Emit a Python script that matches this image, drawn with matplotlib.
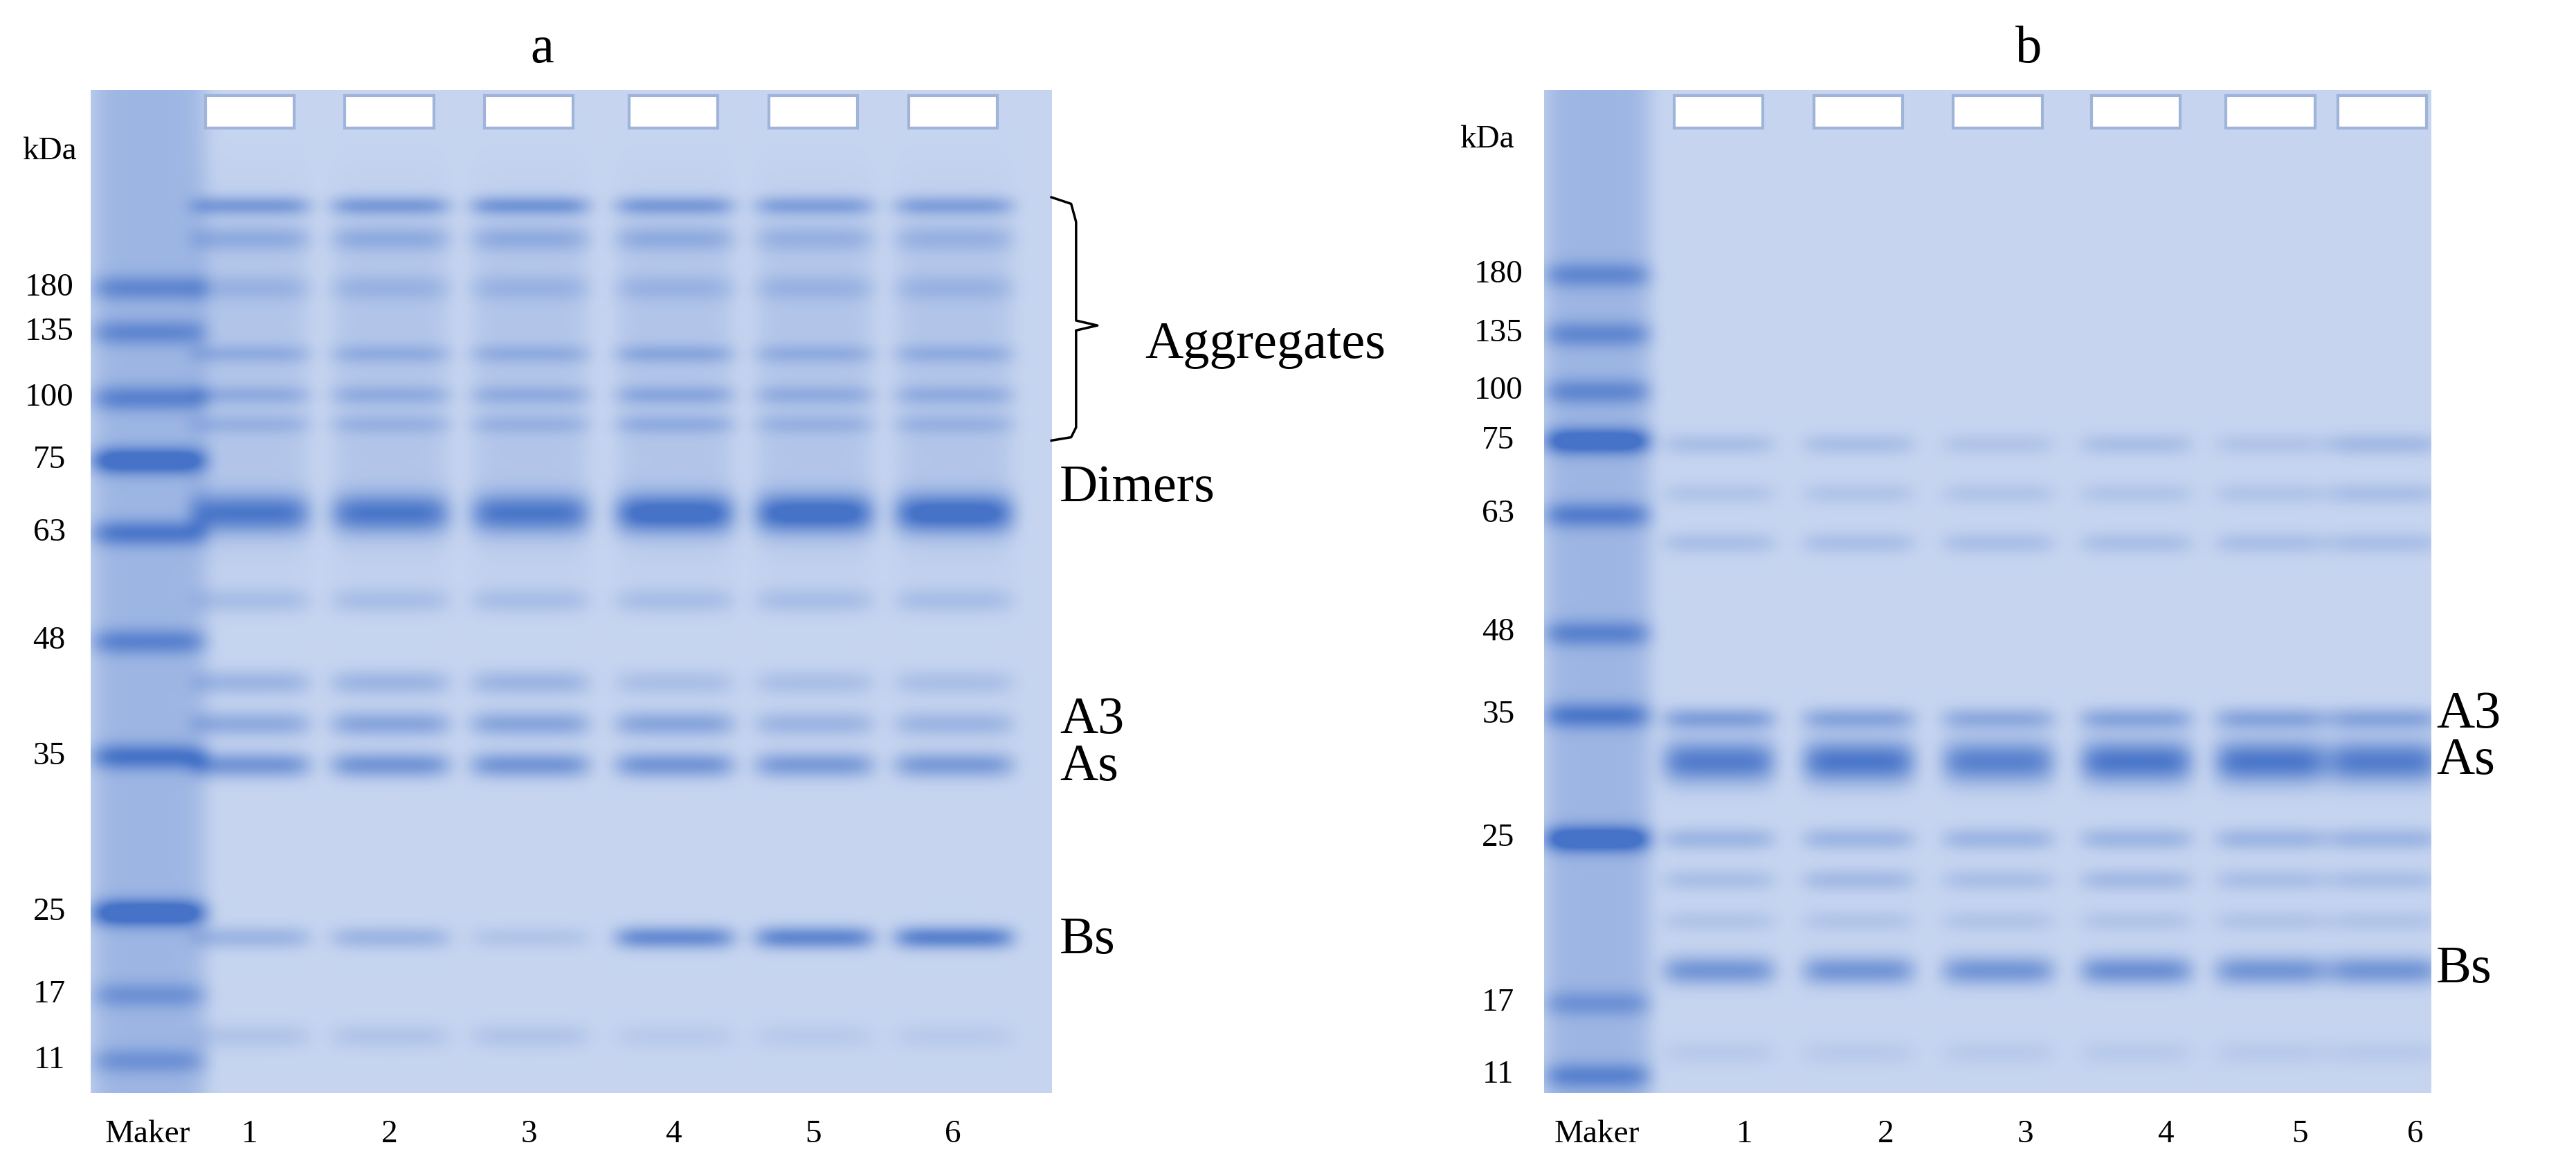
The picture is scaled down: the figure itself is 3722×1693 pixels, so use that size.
import numpy as np
import matplotlib
matplotlib.use("Agg")
import matplotlib.pyplot as plt

# ---------------- data (positions in reference-image units) ----------------
lanes = ["Maker", "1", "2", "3", "4", "5", "6"]
a_marker_kda = ["180", "135", "100", "75", "63", "48", "35", "25", "17", "11"]
a_marker_y = [175, 202, 242, 280, 324, 390, 460, 555, 605, 645]
a_marker_int = [0.45, 0.45, 0.5, 0.9, 0.6, 0.5, 0.65, 0.95, 0.35, 0.35]
a_lane_x = [90, 152, 237, 322, 410, 495, 580]
a_label_x = [90, 152, 237, 322, 410, 495, 580]
a_band_y = [125, 145, 175, 215, 240, 258, 312, 365, 415, 440, 465, 570, 630]
a_band_w = [6, 8, 8, 6, 6, 6, 12, 8, 8, 8, 8, 7, 8]
a_band_int = [
    [0.5, 0.3, 0.2, 0.25, 0.25, 0.2, 0.8, 0.2, 0.3, 0.4, 0.6, 0.3, 0.15],
    [0.5, 0.3, 0.2, 0.25, 0.25, 0.2, 0.8, 0.2, 0.3, 0.45, 0.6, 0.3, 0.15],
    [0.55, 0.3, 0.2, 0.25, 0.25, 0.2, 0.8, 0.2, 0.3, 0.45, 0.6, 0.15, 0.15],
    [0.5, 0.3, 0.2, 0.3, 0.3, 0.25, 0.95, 0.2, 0.2, 0.45, 0.6, 0.7, 0.1],
    [0.45, 0.25, 0.2, 0.25, 0.25, 0.2, 0.95, 0.2, 0.2, 0.3, 0.55, 0.75, 0.1],
    [0.45, 0.25, 0.2, 0.25, 0.25, 0.2, 0.95, 0.2, 0.2, 0.3, 0.55, 0.8, 0.1],
]
a_labels = ["Dimers", "A3", "As", "Bs"]
a_label_y = [297, 438, 467, 572]

b_marker_kda = ["180", "135", "100", "75", "63", "48", "35", "25", "17", "11"]
b_marker_y = [167, 203, 238, 268, 313, 385, 435, 510, 610, 654]
b_marker_int = [0.45, 0.45, 0.45, 0.9, 0.55, 0.5, 0.6, 0.95, 0.35, 0.5]
b_lane_x = [972, 1046, 1131, 1216, 1300, 1382, 1450]
b_label_x = [972, 1062, 1148, 1233, 1318, 1400, 1470]
b_band_y = [270, 300, 330, 437, 463, 510, 535, 560, 590, 640]
b_band_w = [7, 7, 7, 7, 13, 7, 7, 7, 9, 8]
b_band_int = [
    [0.2, 0.15, 0.2, 0.5, 0.85, 0.3, 0.2, 0.15, 0.6, 0.1],
    [0.2, 0.15, 0.2, 0.45, 0.9, 0.3, 0.25, 0.15, 0.6, 0.1],
    [0.15, 0.15, 0.2, 0.4, 0.8, 0.3, 0.2, 0.15, 0.6, 0.1],
    [0.2, 0.15, 0.2, 0.45, 0.9, 0.3, 0.25, 0.15, 0.65, 0.1],
    [0.15, 0.15, 0.2, 0.45, 0.9, 0.3, 0.2, 0.15, 0.6, 0.1],
    [0.25, 0.2, 0.2, 0.45, 0.85, 0.3, 0.2, 0.15, 0.6, 0.1],
]
b_labels = ["A3", "As", "Bs"]
b_label_y = [435, 463, 590]

BG = np.array([205, 218, 242]) / 255
BAND = np.array([70, 115, 200]) / 255
W, H = 1568, 713

def gel(x0, x1, y0, y1, lane_x, lane_w, m_w, m_y, m_int, band_y, band_w, band_int, smear=None):
    xs = np.arange(x0, x1)
    ys = np.arange(y0, y1)
    I = np.zeros((len(ys), len(xs)))
    mx = lane_x[0]
    mprof = np.exp(-((xs - mx) / (m_w / 2)) ** 6)
    col = 0.3 * np.ones_like(ys, float)
    for y, v in zip(m_y, m_int):
        col += v * np.exp(-((ys - y) / 8) ** 2)
    I += np.outer(col, mprof)
    for lx, ints in zip(lane_x[1:], band_int):
        prof = np.exp(-((xs - lx) / (lane_w / 2)) ** 6)
        col = np.zeros_like(ys, float)
        for y, w, v in zip(band_y, band_w, ints):
            col += v * np.exp(-((ys - y) / w) ** 2)
        if smear is not None:
            col += smear * np.exp(-((ys - 230) / 110) ** 4)
        I += np.outer(col, prof)
    I = np.clip(I + 0.05, 0, 1)
    img = BG[None, None, :] * (1 - I[..., None]) + BAND[None, None, :] * I[..., None]
    ax.imshow(img, extent=(x0, x1, y1, y0), aspect="auto", interpolation="bilinear", zorder=0)
    for lx in lane_x[1:]:
        ax.add_patch(plt.Rectangle((lx - 27, y0 + 3), 54, 20, fc="white", ec="#9fb4d8", lw=3, zorder=1))

fig = plt.figure(figsize=(37.22, 16.93), dpi=100)
ax = fig.add_axes([0, 0, 1, 1])
ax.set_xlim(0, W)
ax.set_ylim(H, 0)
ax.axis("off")
plt.rcParams["font.family"] = ["Liberation Serif", "DejaVu Serif"]

gel(55, 640, 55, 665, a_lane_x, 72, 70, a_marker_y, a_marker_int, a_band_y, a_band_w, a_band_int, smear=0.15)
gel(940, 1480, 55, 665, b_lane_x, 68, 65, b_marker_y, b_marker_int, b_band_y, b_band_w, b_band_int)

fs_small = 34
fs_big = 55
ax.text(330, 30, "a", ha="center", va="center", fontsize=fs_big)
ax.text(1235, 30, "b", ha="center", va="center", fontsize=fs_big)
ax.text(30, 92, "kDa", ha="center", va="center", fontsize=fs_small)
ax.text(905, 85, "kDa", ha="center", va="center", fontsize=fs_small)
for t, y in zip(a_marker_kda, a_marker_y):
    ax.text(30, y, t, ha="center", va="center", fontsize=fs_small)
for t, y in zip(b_marker_kda, b_marker_y):
    ax.text(912, y, t, ha="center", va="center", fontsize=fs_small)
for t, x in zip(lanes, a_label_x):
    ax.text(x, 690, t, ha="center", va="center", fontsize=fs_small)
for t, x in zip(lanes, b_label_x):
    ax.text(x, 690, t, ha="center", va="center", fontsize=fs_small)
for t, y in zip(a_labels, a_label_y):
    ax.text(645, y, t, ha="left", va="center", fontsize=fs_big)
for t, y in zip(b_labels, b_label_y):
    ax.text(1483, y, t, ha="left", va="center", fontsize=fs_big)
ax.text(697, 210, "Aggregates", ha="left", va="center", fontsize=fs_big)
ax.plot([640, 652, 655, 655, 668, 655, 655, 652, 640],
        [120, 124, 135, 195, 198, 201, 260, 266, 268], color="black", lw=2.5)

fig.savefig("out.png", dpi=100)
